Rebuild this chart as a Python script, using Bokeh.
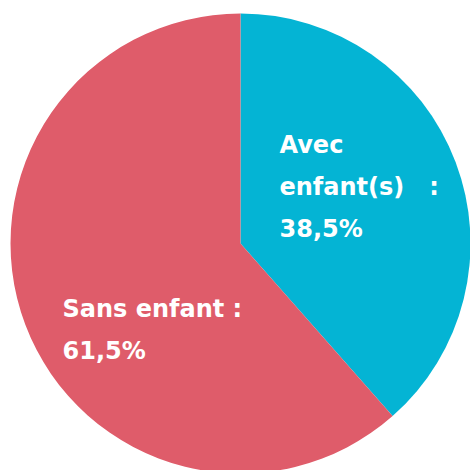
import math
from bokeh.plotting import figure
from bokeh.models import Range1d, ColumnDataSource, Label
from bokeh.embed import file_html
from bokeh.resources import INLINE

# ---- data ----
categories = ["Avec enfant(s)", "Sans enfant"]
values = [38.5, 61.5]
colors = ["#04B4D4", "#DF5C6A"]
label_lines = [["Avec", "enfant(s)\u00a0\u00a0\u00a0:", "38,5%"], ["Sans enfant :", "61,5%"]]

# ---- layout ----
W = H = 470
CX, CY, R = 240, H - 243, 230
FONT = "DejaVu Sans"
FSIZE = "24px"
LINE_GAP = 42

total = sum(values)
starts, ends = [], []
acc = 0.0
for v in values:
    a0 = math.pi / 2 - 2 * math.pi * acc / total
    acc += v
    a1 = math.pi / 2 - 2 * math.pi * acc / total
    starts.append(a0)
    ends.append(a1)

src = ColumnDataSource(dict(cat=categories, val=values, start=starts, end=ends, color=colors))

p = figure(width=W, height=H, output_backend="svg", toolbar_location=None,
           x_range=Range1d(0, W), y_range=Range1d(0, H), min_border=0,
           outline_line_color=None, background_fill_color="white",
           border_fill_color="white")
p.axis.visible = False
p.grid.visible = False

p.wedge(x=CX, y=CY, radius=R, start_angle="start", end_angle="end",
        direction="clock", fill_color="color", line_color=None, source=src)

# label anchor (first-line) in pixels from the figure's top-left
anchors = [(279, 144), (62, 308)]
for (ax, ay), lines in zip(anchors, label_lines):
    for i, t in enumerate(lines):
        p.add_layout(Label(x=ax, y=H - (ay + i * LINE_GAP), text=t,
                           text_font=FONT, text_font_size=FSIZE,
                           text_font_style="bold", text_color="white",
                           text_align="left", text_baseline="alphabetic"))

open("out.html", "w").write(file_html(p, INLINE))
